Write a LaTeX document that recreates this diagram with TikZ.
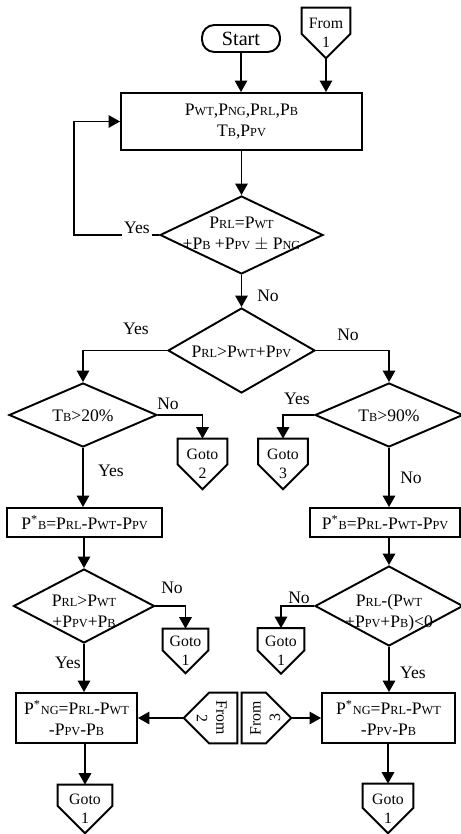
\documentclass[tikz,border=0pt]{standalone}
\usepackage{fontspec}
\setmainfont{Liberation Serif}
\usepackage{graphicx}
\usetikzlibrary{arrows.meta, shapes.geometric, calc}
\newcommand{\Pw}[1]{P{\scriptsize #1}}
\newcommand{\Tw}[1]{T{\scriptsize #1}}
% off-page connectors, drawn round a plain node
\newcommand{\offdown}[1]{\draw[flow] let \p1=(#1.north west), \p2=(#1.south east), \n1={(\x2-\x1)/2} in (\p1) -- (\x2,\y1) -- (\x2,\y2+\n1) -- (#1.south) -- (\x1,\y2+\n1) -- cycle;}
\newcommand{\offleft}[1]{\draw[flow] let \p1=(#1.north west), \p2=(#1.south east), \n1={(\y1-\y2)/2} in (\x2,\y1) -- (\p2) -- (\x1+\n1,\y2) -- (#1.west) -- (\x1+\n1,\y1) -- cycle;}
\newcommand{\offright}[1]{\draw[flow] let \p1=(#1.north west), \p2=(#1.south east), \n1={(\y1-\y2)/2} in (\p1) -- (\x2-\n1,\y1) -- (#1.east) -- (\x2-\n1,\y2) -- (\x1,\y2) -- cycle;}
\tikzset{
  flow/.style={line width=1.1pt},
  arr/.style={flow, -{Triangle[length=6.5pt,width=7pt]}},
  procbox/.style={draw, line width=1.1pt, rectangle, align=center, inner sep=1pt},
  decbox/.style={draw, line width=1.1pt, diamond, inner sep=0pt},
  dtext/.style={align=center, inner sep=0pt},
  offpage/.style={align=center, inner sep=0pt, font=\small},
  lbl/.style={inner sep=1pt}
}

\begin{document}
\begin{tikzpicture}[x=0.02cm, y=-0.02cm]
    \useasboundingbox (0,0) rectangle (460,834);

    % top
    \node[procbox, rounded corners=7pt, minimum width=1.56cm, minimum height=0.54cm, font=\fontsize{11.5}{13}\selectfont] (start) at (241,38.5) {Start};
    \node[offpage, minimum width=0.96cm, minimum height=1.0cm] (from1) at (326,33) {From\\1};
    \offdown{from1}
    \node[procbox, minimum width=4.82cm, minimum height=1.14cm] (input) at (241.5,121.5) {\Pw{WT},\Pw{NG},\Pw{RL},\Pw{B}\\\Tw{B},\Pw{PV}};

    \node[decbox, minimum width=3.26cm, minimum height=1.56cm] (d1) at (241.5,235) {};
    \node[dtext] (d1t) at (241.5,234) {\Pw{RL}=\Pw{WT}\\+\Pw{B} +\Pw{PV} $\pm$ \Pw{NG}};
    \node[decbox, minimum width=2.94cm, minimum height=1.7cm] (d2) at (241.5,350.5) {};
    \node[dtext] (d2t) at (241.5,352) {\Pw{RL}>\Pw{WT}+\Pw{PV}};

    % left branch
    \node[decbox, minimum width=2.96cm, minimum height=1.28cm] (d3) at (83,415) {};
    \node[dtext] (d3t) at (83,416) {\Tw{B}>20\%};
    \node[offpage, minimum width=0.98cm, minimum height=1.0cm] (g2) at (202.5,464) {Goto\\2};
    \offdown{g2}
    \node[procbox, minimum width=3.1cm, minimum height=0.58cm] (bpl) at (84.5,522.5) {P\textsuperscript{*}{\scriptsize B}=\Pw{RL}-\Pw{WT}-\Pw{PV}};
    \node[decbox, minimum width=2.82cm, minimum height=1.48cm] (d5) at (84,606) {};
    \node[dtext] (d5t) at (84,611) {\Pw{RL}>\Pw{WT}\\+\Pw{PV}+\Pw{B}};
    \node[offpage, minimum width=0.9cm, minimum height=0.88cm] (g1a) at (185.5,651) {Goto\\1};
    \offdown{g1a}
    \node[procbox, minimum width=2.42cm, minimum height=1.0cm] (ngl) at (76.5,718) {P\textsuperscript{*}{\scriptsize NG}=\Pw{RL}-\Pw{WT}\\-\Pw{PV}-\Pw{B}};
    \node[offpage, minimum width=1.06cm, minimum height=1.0cm] (f2) at (210.5,718) {\rotatebox{-90}{\begin{tabular}{@{}c@{}}From\\2\end{tabular}}};
    \offleft{f2}
    \node[offpage, minimum width=1.08cm, minimum height=0.96cm] (g1c) at (85,809) {Goto\\1};
    \offdown{g1c}

    % right branch
    \node[decbox, minimum width=2.96cm, minimum height=1.28cm] (d4) at (389,415) {};
    \node[dtext] (d4t) at (389,416) {\Tw{B}>90\%};
    \node[offpage, minimum width=0.98cm, minimum height=1.0cm] (g3) at (283,464) {Goto\\3};
    \offdown{g3}
    \node[procbox, minimum width=3.0cm, minimum height=0.58cm] (bpr) at (385,522.5) {P\textsuperscript{*}{\scriptsize B}=\Pw{RL}-\Pw{WT}-\Pw{PV}};
    \node[decbox, minimum width=2.96cm, minimum height=1.6cm] (d6) at (389,606) {};
    \node[dtext] (d6t) at (389,613) {\Pw{RL}-(\Pw{WT}\\+\Pw{PV}+\Pw{B})<0};
    \node[offpage, minimum width=0.92cm, minimum height=0.9cm] (g1b) at (281,651) {Goto\\1};
    \offdown{g1b}
    \node[procbox, minimum width=2.66cm, minimum height=1.0cm] (ngr) at (388.5,718) {P\textsuperscript{*}{\scriptsize NG}=\Pw{RL}-\Pw{WT}\\-\Pw{PV}-\Pw{B}};
    \node[offpage, minimum width=0.98cm, minimum height=1.0cm] (f3) at (266.5,718) {\rotatebox{90}{\begin{tabular}{@{}c@{}}From\\3\end{tabular}}};
    \offright{f3}
    \node[offpage, minimum width=1.0cm, minimum height=0.98cm] (g1d) at (388,808.5) {Goto\\1};
    \offdown{g1d}

    % connectors
    \draw[arr] (start) -- (start |- input.north);
    \draw[arr] (from1.south) -- (from1.south |- input.north);
    \draw[arr] (input) -- (d1);
    \draw[arr] (d1.west) -- ++(-85,0) |- (input.west);
    \draw[arr] (d1) -- (d2);
    \draw[arr] (d2.west) -| (d3.north);
    \draw[arr] (d2.east) -| (d4.north);
    \draw[arr] (d3.east) -| (g2.north);
    \draw[arr] (d4.west) -| (g3.north);
    \draw[arr] (d3.south) -- (d3.south |- bpl.north);
    \draw[arr] (d4.south) -- (d4.south |- bpr.north);
    \draw[arr] (d5.north |- bpl.south) -- (d5.north);
    \draw[arr] (d6.north |- bpr.south) -- (d6.north);
    \draw[arr] (d5.east) -| (g1a.north);
    \draw[arr] (d6.west) -| (g1b.north);
    \draw[arr] (d5.south) -- (d5.south |- ngl.north);
    \draw[arr] (d6.south) -- (d6.south |- ngr.north);
    \draw[arr] (f2.west) -- (ngl.east);
    \draw[arr] (f3.east) -- (ngr.west);
    \draw[arr] (g1c.north |- ngl.south) -- (g1c.north);
    \draw[arr] (g1d.north |- ngr.south) -- (g1d.north);

    % branch labels
    \node[lbl, fill=white] (yes1) at (137,228) {Yes};
    \node[lbl] (no1) at (268,296) {No};
    \node[lbl] (yes2) at (136,329) {Yes};
    \node[lbl] (no2) at (348,335) {No};
    \node[lbl] (no3) at (168,404) {No};
    \node[lbl] (yes3) at (297,399) {Yes};
    \node[lbl] (yes4) at (111,471) {Yes};
    \node[lbl] (no4) at (411,478) {No};
    \node[lbl] (no5) at (172,588) {No};
    \node[lbl] (no6) at (299,598) {No};
    \node[lbl] (yes5) at (68,663) {Yes};
    \node[lbl] (yes6) at (413,673) {Yes};
\end{tikzpicture}
\end{document}
